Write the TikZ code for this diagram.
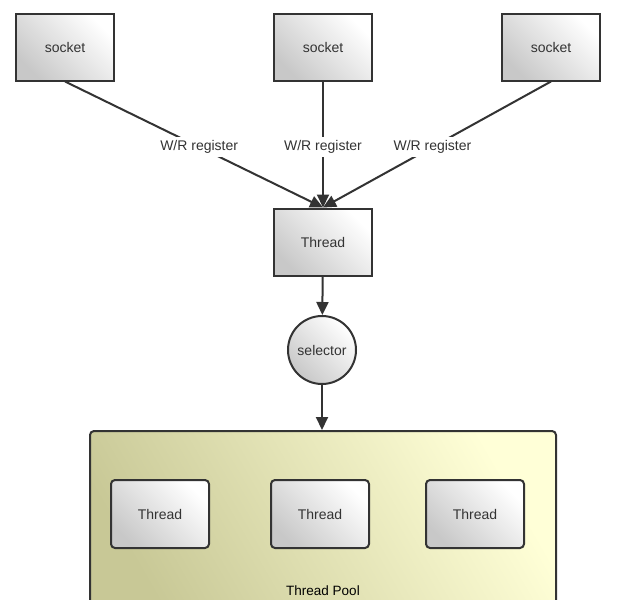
\documentclass[tikz,border=0pt]{standalone}
\usepackage{fontspec}
\setmainfont{Liberation Sans}
\usepackage{tikz}
\usetikzlibrary{shapes, arrows.meta}
\definecolor{edge}{RGB}{51,51,51}
\definecolor{boxdark}{RGB}{200,200,200}
\definecolor{pooldark}{RGB}{200,200,150}
\definecolor{poollight}{RGB}{255,255,215}
\tikzset{
	sockbox/.style = {draw=edge, line width=2pt, minimum width = 98pt, minimum height = 67pt, align = center, text=edge, top color=white, bottom color=boxdark, shading angle=-45},
	workbox/.style = {sockbox, rounded corners=4pt, minimum height = 68pt},
	link/.style = {->, >={Triangle[length=13pt,width=12pt]}, line width=2pt, edge}
}

\begin{document}
\begin{tikzpicture}[x=1pt,y=-1pt,font=\fontsize{14}{16}\selectfont]
	\clip (0,0) rectangle (633,600);
	\fill[white] (0,0) rectangle (633,600);
	% thread pool
	\node [draw=edge, line width=2pt, rounded corners=4pt, minimum width=466pt, minimum height=188pt, top color=poollight, bottom color=pooldark, shading angle=-60] (pool) at (323,525) {};
	\node [align = center, text=black, font=\fontsize{13.5}{15}\selectfont] (pooll) at (323,591) {Thread Pool};
	% sockets
	\node [sockbox] (s1) at (65,47) {socket};
	\node [sockbox] (s2) at (323,47) {socket};
	\node [sockbox] (s3) at (551,47) {socket};
	\node [sockbox] (T) at (323,242) {Thread};
	\node [sockbox, circle, minimum size = 68pt] (sel) at (322,350) {selector};
	% workers
	\node [workbox] (w1) at (160,514) {Thread};
	\node [workbox] (w2) at (320,514) {Thread};
	\node [workbox] (w3) at (475,514) {Thread};

	\draw[link] (s1.south) to node [pos=0.52, align = center, fill=white, text=edge] {W/R register} (T.north) ;
	\draw[link] (s2.south) to node [pos=0.52, align = center, fill=white, text=edge] {W/R register} (T.north) ;
	\draw[link] (s3.south) to node [pos=0.52, align = center, fill=white, text=edge] {W/R register} (T.north) ;
	\draw[link] (T) to (sel) ;
	\draw[link] (sel) to (pool.north -| sel) ;

	\end{tikzpicture}
\end{document}
